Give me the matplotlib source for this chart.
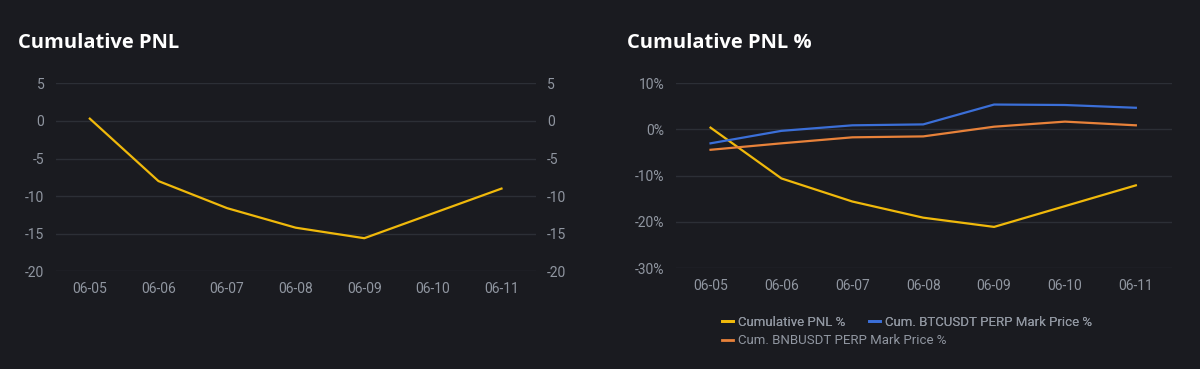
import matplotlib.pyplot as plt
from matplotlib.lines import Line2D
from matplotlib.ticker import FuncFormatter

# Datos
dates = ['06-05', '06-06', '06-07', '06-08', '06-09', '06-10', '06-11']
pnl = [0.3, -8.0, -11.6, -14.2, -15.6, -12.3, -9.0]
pnl_pct = [0.4, -10.6, -15.6, -19.1, -21.1, -16.6, -12.1]
btc_pct = [-3.0, -0.3, 0.9, 1.1, 5.4, 5.3, 4.7]
bnb_pct = [-4.4, -3.0, -1.7, -1.5, 0.6, 1.7, 0.9]

# Colores
bg = '#1a1b20'
grid_c = '#2c2f36'
tick_c = '#9096a0'
yellow = '#f0b90b'
blue = '#3b6fd8'
orange = '#e8823a'

plt.rcParams['font.family'] = ['Roboto', 'DejaVu Sans']
plt.rcParams['axes.unicode_minus'] = False

fig = plt.figure(figsize=(12, 3.69), dpi=100, facecolor=bg)

def style(ax):
    ax.set_facecolor(bg)
    for s in ax.spines.values():
        s.set_visible(False)
    ax.grid(axis='y', color=grid_c, linewidth=1)
    ax.set_axisbelow(True)
    ax.tick_params(colors=tick_c, labelsize=10, length=0, pad=8)

x = list(range(len(dates)))

# Gráfica izquierda
ax1 = fig.add_axes([55.5 / 1200, 1 - 271.3 / 369, (535.8 - 55.5) / 1200, (271.3 - 83.3) / 369])
style(ax1)
ax1.plot(x, pnl, color=yellow, linewidth=1.6)
ax1.set_ylim(-20, 5)
ax1.set_yticks([5, 0, -5, -10, -15, -20])
ax1.set_xlim(-0.5, 6.5)
ax1.set_xticks(x)
ax1.set_xticklabels(dates)
ax1.tick_params(axis='y', labelright=True, pad=8)
fig.text(18 / 1200, 1 - 48 / 369, 'Cumulative PNL', color='white', fontsize=14.5,
         fontweight='bold', fontfamily='Open Sans', va='baseline')

# Gráfica derecha
ax2 = fig.add_axes([675.8 / 1200, 1 - 268 / 369, (1172 - 675.8) / 1200, (268 - 83.3) / 369])
style(ax2)
ax2.plot(x, pnl_pct, color=yellow, linewidth=1.6)
ax2.plot(x, btc_pct, color=blue, linewidth=1.6)
ax2.plot(x, bnb_pct, color=orange, linewidth=1.6)
ax2.set_ylim(-30, 10)
ax2.set_yticks([10, 0, -10, -20, -30])
ax2.yaxis.set_major_formatter(FuncFormatter(lambda v, p: f'{v:.0f}%'))
ax2.set_xlim(-0.49, 6.51)
ax2.set_xticks(x)
ax2.set_xticklabels(dates)
fig.text(627 / 1200, 1 - 48 / 369, 'Cumulative PNL %', color='white', fontsize=14.5,
         fontweight='bold', fontfamily='Open Sans', va='baseline')

# Leyenda
h_y = Line2D([], [], color=yellow, linewidth=2)
h_b = Line2D([], [], color=blue, linewidth=2)
h_o = Line2D([], [], color=orange, linewidth=2)
leg_kw = dict(frameon=False, labelcolor=tick_c, fontsize=9.5, handlelength=0.8,
              handletextpad=0.45, borderaxespad=0, borderpad=0)
leg1 = fig.legend([h_y, h_b], ['Cumulative PNL %', 'Cum. BTCUSDT PERP Mark Price %'],
                  loc='center left', bbox_to_anchor=(722 / 1200, 1 - 322 / 369),
                  ncol=2, columnspacing=1.75, **leg_kw)
fig.add_artist(leg1)
fig.legend([h_o], ['Cum. BNBUSDT PERP Mark Price %'],
           loc='center left', bbox_to_anchor=(722 / 1200, 1 - 341 / 369), **leg_kw)

plt.savefig('out.png', dpi=100, facecolor=bg)
